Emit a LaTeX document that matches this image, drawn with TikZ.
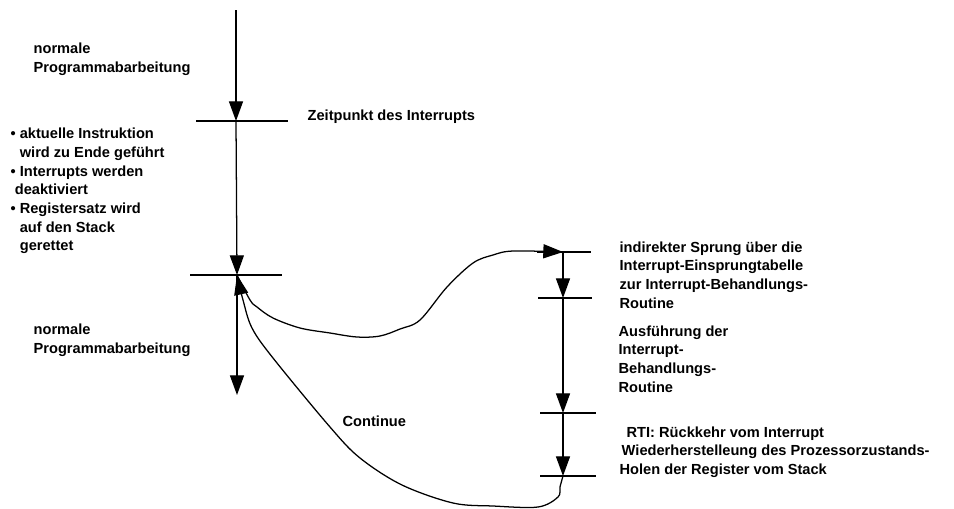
\documentclass[tikz,border=0pt]{standalone}
\usepackage{fontspec}
\setmainfont{Liberation Sans}
\usetikzlibrary{arrows.meta}

\begin{document}
\begin{tikzpicture}[x=0.025cm, y=-0.025cm, >={Triangle[length=14pt, width=10pt]}, line width=0.9pt,
    every node/.style={font=\fontsize{10.4}{13.3}\selectfont\bfseries, align=left, anchor=west, inner sep=0pt}]
    \useasboundingbox (0,0) rectangle (954,508);
    % Hauptprogramm
    \coordinate (start) at (236,10);
    \coordinate (t1) at (236,121);
    \coordinate (t2) at (237,275);
    \coordinate (ende) at (237,395);
    % Interrupt-Routine
    \coordinate (r1) at (563,252);
    \coordinate (r2) at (563,298);
    \coordinate (r3) at (563,413);
    \coordinate (r4) at (563,476);

    \draw (t1) ++(-40,0) -- ++(92,0);
    \draw (t2) ++(-47,0) -- ++(92,0);
    \draw (r1) ++(-26,0) -- ++(54,0);
    \draw (r2) ++(-25,0) -- ++(54,0);
    \draw (r3) ++(-23,0) -- ++(56,0);
    \draw (r4) ++(-23,0) -- ++(56,0);

    \draw[->] (start) -- (t1);
    \draw[->] (t1) -- (t2);
    \draw[->] (t2) -- (ende);
    \draw[->] (r1) -- (r2);
    \draw[->] (r2) -- (r3);
    \draw[->] (r3) -- (r4);

    \draw[->] plot[smooth, tension=0.55] coordinates {(t2) (250,300) (257,307) (273,318) (300,328) (330,333) (357,337) (380,336) (400,329) (420,320) (447,287) (473,263) (493,255) (513,251) (r1)};
    \draw[->] plot[smooth, tension=0.55] coordinates {(r4) (560,487) (558,497) (538,507) (493,506) (453,503) (402,485) (360,458) (330,427) (273,358) (252,328) (243,300) (t2)};

    \node (np1) at (33,59.5) {normale\\Programmabarbeitung};
    \node (zeit) at (307,117) {Zeitpunkt des Interrupts};
    \node (aktionen) at (10,191) {• aktuelle Instruktion\\\phantom{• }wird zu Ende geführt\\• Interrupts werden\\\hspace*{3pt}deaktiviert\\• Registersatz wird\\\phantom{• }auf den Stack\\\phantom{• }gerettet};
    \node (np2) at (33,340) {normale\\Programmabarbeitung};
    \node (cont) at (342,421) {Continue};
    \node (sprung) at (619,275) {indirekter Sprung über die\\Interrupt-Einsprungtabelle\\zur Interrupt-Behandlungs-\\Routine};
    \node (ausf) at (618,359) {Ausführung der\\Interrupt-\\Behandlungs-\\Routine};
    \node (rti) at (619,452) {\hspace*{5pt}RTI: Rückkehr vom Interrupt\\\hspace*{1.5pt}Wiederherstelleung des Prozessorzustands-\\Holen der Register vom Stack};
\end{tikzpicture}
\end{document}
